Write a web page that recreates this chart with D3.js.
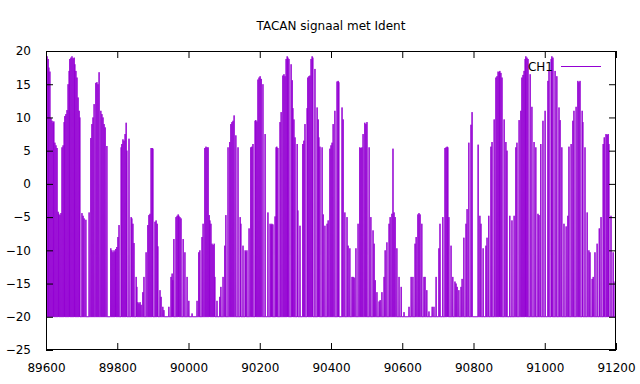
<!DOCTYPE html>
<html><head><meta charset="utf-8">
<script src="https://cdn.jsdelivr.net/npm/d3@7"></script>
<style>body{margin:0;background:#fff}svg{display:block}text{font-family:"DejaVu Sans",sans-serif;fill:#000}</style>
</head><body>
<svg id="c" width="640" height="384"></svg>
<script>
const title = "TACAN signaal met Ident";
const seriesName = "CH1";
const baselineLevel = -20;
const spikeTimes = [
89600,89603,89606,89608,89611,89614,89617,89620,89622,89625,89628,89631,89634,89636,89639,89642,
89645,89648,89651,89653,89656,89659,89662,89665,89667,89670,89673,89676,89679,89681,89684,89687,89690,89693,89695,
89701,89704,89707,89712,89721,89726,89729,89732,89735,89740,89743,89746,89749,89754,89757,89760,89763,89766,89771,
89782,89785,89788,89791,89794,89796,89799,89802,89805,89811,89813,89816,89819,89822,89825,89827,89833,
89839,89841,89844,89847,89853,89855,89858,89861,89864,89867,89872,89875,89881,89886,89889,89892,89895,89898,89900,
89906,89909,89912,89914,89920,89923,89928,89931,89945,89951,89954,89956,89959,89965,89968,89971,89973,89976,89979,
89985,89990,89996,90001,90010,90024,90029,90032,90038,90041,90046,90049,90052,90055,90058,90060,90063,90066,90069,90072,
90074,90080,90088,90091,90097,90102,90105,90111,90116,90119,90122,90125,90128,90133,90139,90145,90147,90153,90159,90161,
90164,90170,90175,90178,90181,90187,90189,90192,90195,90198,90201,90204,90209,90215,90223,90229,90232,90234,90237,90243,
90246,90248,90251,90257,90260,90265,90268,90271,90274,90277,90279,90282,90288,90291,90293,90296,90299,90305,90307,90313,
90321,90324,90327,90333,90335,90338,90341,90344,90347,90349,90355,90361,90364,90366,90369,90375,90378,90383,90389,90392,
90397,90400,90403,90406,90411,90417,90420,90422,90431,90434,90439,90445,90448,90453,90459,90462,90465,90470,90476,
90481,90484,90487,90490,90495,90498,90501,90507,90512,90518,90521,90524,90529,90535,90538,90543,90549,90552,90557,90563,
90566,90571,90574,90577,90580,90585,90591,90597,90605,90619,90625,90630,90636,90639,90644,90647,90650,90655,90661,90664,
90669,90675,90684,90689,90695,90703,90706,90714,90720,90723,90726,90728,90731,90737,90742,90748,90751,90754,90759,90765,
90768,90773,90779,90782,90787,90793,90796,90813,90818,90821,90827,90835,90838,90843,90849,90852,90858,90863,90866,90869,
90872,90874,90877,90880,90886,90891,90894,90902,90908,90914,90919,90922,90928,90933,90936,90939,90942,90945,90947,90950,
90953,90959,90964,90970,90975,90981,90984,90989,90995,91001,91009,91012,91018,91020,91023,91029,91034,91040,91043,91048,
91054,91060,91065,91068,91074,91079,91082,91088,91093,91096,91099,91105,91107,91113,91119,91124,91127,91133,91136,91141,
91147,91153,91158,91164,91167,91172,91175,91178,91180,91186,91192,91194,91200
];
const spikeValues = [
19.4,19.2,18.8,17.5,16.9,9.9,9.5,9.2,9.4,6.2,5.8,5.4,-4.2,-4.5,-4.7,-4.4,
5.5,5.8,9.3,10.2,10.5,11.1,15.0,17.0,18.8,19.0,19.2,18.9,19.0,18.0,17.0,16.0,13.0,11.0,10.0,
-4.4,-4.8,-5.2,-5.4,-4.3,6.9,9.0,10.0,12.0,15.2,15.3,15.0,16.8,11.0,10.5,10.0,9.0,8.5,5.7,
-9.7,-10.0,-10.3,-10.0,-10.2,-9.8,-9.5,-8.0,-6.2,5.5,6.0,6.7,6.5,7.5,9.2,5.0,6.8,
-5.0,-5.2,-6.0,-8.9,-14.0,-15.5,-17.8,-18.0,-17.8,-18.2,-16.3,-14.0,-10.3,-6.2,-4.7,-4.5,5.4,5.4,5.3,
-5.7,-5.5,-6.0,-9.4,-16.0,-17.0,-18.5,-19.0,-18.5,-14.0,-13.5,-14.5,-8.3,-5.0,-4.8,-4.6,-4.8,-5.0,-5.2,
-8.3,-10.3,-14.0,-17.6,-19.5,-17.6,-10.3,-10.0,-8.0,-6.0,5.4,5.6,5.5,5.5,-4.7,-5.5,-6.0,-9.0,-9.2,-9.0,
-14.0,-17.6,-17.0,-15.5,-14.0,-9.3,-4.7,5.5,6.3,9.0,9.3,9.5,10.3,7.3,5.5,-5.0,-6.0,-9.3,-10.0,-10.2,
-10.0,-6.7,5.5,5.6,6.0,9.5,9.6,9.4,15.7,16.0,16.2,15.8,15.0,7.5,-4.3,-6.0,-6.2,-6.0,-6.1,-4.9,
5.5,5.6,5.4,9.3,10.8,16.3,16.5,16.2,18.8,19.2,19.0,18.8,18.0,15.6,11.4,9.7,7.0,6.0,-4.0,-6.3,
6.0,6.5,9.0,11.4,16.0,16.2,16.3,18.8,19.2,19.0,17.3,11.5,9.7,7.0,5.6,5.5,-4.6,-6.3,-6.0,-5.5,
5.3,5.8,6.2,9.0,11.0,15.4,15.5,15.3,11.5,9.7,-4.3,-5.0,-9.3,-9.7,-14.0,-14.0,-14.1,-9.7,-6.0,
5.5,5.4,5.5,7.5,9.2,9.0,9.3,5.5,-5.0,-7.0,-9.0,-14.5,-16.3,-17.7,-17.5,-16.3,-14.0,-10.0,-8.8,-6.0,
-5.0,-4.5,5.3,-4.3,-5.0,-9.7,-14.0,-15.5,-19.3,-18.5,-14.0,-14.0,-9.0,-8.0,-4.6,-4.4,-4.6,-6.0,-14.0,-14.0,
-16.0,-19.2,-18.5,-18.5,-14.0,-9.7,-6.0,-5.0,5.4,5.5,5.6,5.5,-5.0,-9.3,-14.0,-14.7,-15.0,-15.5,-16.0,-15.5,
-14.3,-8.1,-6.0,-3.8,6.2,8.9,10.8,5.9,-4.8,-6.0,-9.7,-9.3,-8.1,-4.8,5.6,6.3,9.7,16.0,16.2,16.9,
16.8,17.0,16.7,16.0,9.7,6.3,5.0,-4.8,-5.5,-4.8,5.5,6.2,9.6,11.0,16.0,16.4,17.0,18.8,19.2,19.0,
18.8,16.5,11.6,6.3,5.5,-4.5,-4.7,6.0,9.5,11.0,15.5,17.0,18.8,19.2,19.0,17.0,16.2,11.5,9.6,5.5,
-6.0,-6.4,-4.8,5.6,6.0,9.5,11.0,11.6,15.5,15.3,15.5,11.0,9.3,5.5,-4.3,-10.0,-10.3,-14.3,-14.0,-10.3,
-9.0,-6.7,-5.0,6.0,7.0,7.5,7.4,7.5,6.0,-4.8,-10.3,-14.7,-14.0
];
const xTickValues = [89600,89800,90000,90200,90400,90600,90800,91000,91200];
const yTickValues = [-25,-20,-15,-10,-5,0,5,10,15,20];

const m = {l:46, r:616, t:51, b:350};
const color = "#9400d3";
const svg = d3.select("#c");
const x = d3.scaleLinear().domain([89600,91200]).range([m.l,m.r]);
const y = d3.scaleLinear().domain([-25,20]).range([m.b,m.t]);

svg.append("defs").append("clipPath").attr("id","clip")
  .append("rect").attr("x",m.l).attr("y",m.t).attr("width",m.r-m.l).attr("height",m.b-m.t);

// each pulse rises from the baseline to its peak and returns
const pts = [];
const hw = 0.6;
spikeTimes.forEach((t,i)=>{
  pts.push([t-hw, baselineLevel]);
  pts.push([t, spikeValues[i]]);
  pts.push([t+hw, baselineLevel]);
});
const line = d3.line().x(d=>x(d[0])).y(d=>y(d[1]));
svg.append("path").attr("d",line(pts)).attr("fill","none")
  .attr("stroke",color).attr("stroke-width",1).attr("stroke-linejoin","round")
  .attr("clip-path","url(#clip)");

// axes (gnuplot style: inward ticks, mirrored)
const tl = 7;
const fs = 12;
const g = svg.append("g");
g.append("g").attr("transform",`translate(0,${m.b})`)
  .call(d3.axisBottom(x).tickValues(xTickValues).tickSize(-tl).tickPadding(13).tickFormat(d3.format("d")))
  .call(s=>{s.select(".domain").remove();s.selectAll("text").attr("font-size",fs).attr("font-family","DejaVu Sans");});
g.append("g").attr("transform",`translate(0,${m.t})`)
  .call(d3.axisTop(x).tickValues(xTickValues).tickSize(-tl).tickFormat(""))
  .call(s=>s.select(".domain").remove());
g.append("g").attr("transform",`translate(${m.l},0)`)
  .call(d3.axisLeft(y).tickValues(yTickValues).tickSize(-tl).tickPadding(15).tickFormat(d3.format("d")))
  .call(s=>{s.select(".domain").remove();s.selectAll("text").attr("font-size",fs).attr("font-family","DejaVu Sans");});
g.append("g").attr("transform",`translate(${m.r},0)`)
  .call(d3.axisRight(y).tickValues(yTickValues).tickSize(-tl).tickFormat(""))
  .call(s=>s.select(".domain").remove());
g.selectAll(".tick line").attr("stroke","#000");
svg.append("rect").attr("x",m.l+0.5).attr("y",m.t+0.5).attr("width",m.r-m.l-1).attr("height",m.b-m.t-1)
  .attr("fill","none").attr("stroke","#000").attr("stroke-width",1);

svg.append("text").attr("x",(m.l+m.r)/2).attr("y",30).attr("text-anchor","middle")
  .attr("font-size",fs).text(title);

// legend
svg.append("text").attr("x",553).attr("y",71).attr("text-anchor","end").attr("font-size",fs).text(seriesName);
svg.append("line").attr("x1",561).attr("x2",601).attr("y1",66.5).attr("y2",66.5)
  .attr("stroke",color).attr("stroke-width",1);
</script>
</body></html>
